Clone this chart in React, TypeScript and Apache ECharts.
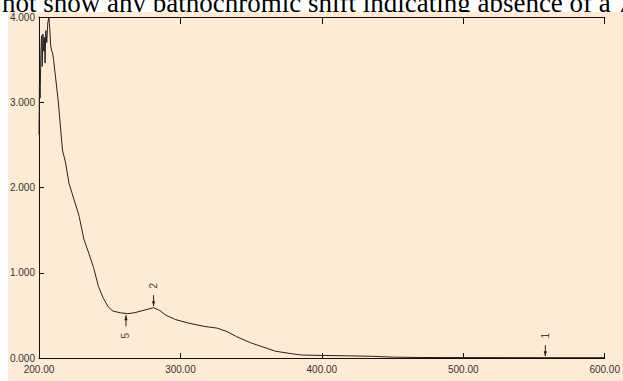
import React, { useEffect, useRef } from "react";
import * as echarts from "echarts";

// UV absorption spectrum: wavelength (nm) against absorbance
const wavelengths = [
  200.0, 200.3, 200.8, 201.3, 201.8, 202.3, 202.8, 203.3, 203.8, 204.3, 204.8,
  205.5, 206.2, 207.0, 207.6, 208.3, 209.0, 209.6, 210.3, 213.5, 216.6, 218.9,
  221.2, 224.9, 227.0, 228.4, 231.8, 235.2, 238.6, 242.0, 245.5, 248.9, 252.3,
  257.8, 262.5, 267.3, 274.2, 281.0, 285.1, 289.9, 296.7, 305.6, 317.2, 326.1,
  332.9, 339.8, 349.4, 358.2, 367.1, 378.7, 385.6, 400.0, 419.8, 435.0, 450.6,
  470.0, 500.0, 550.0, 600.0,
];
const absorbance = [
  2.62, 3.22, 3.05, 3.55, 3.78, 3.42, 3.8, 3.6, 3.76, 3.46, 3.84,
  3.7, 3.93, 4.0, 3.86, 3.66, 3.6, 3.58, 3.5, 3.03, 2.44, 2.28,
  2.05, 1.85, 1.74, 1.66, 1.39, 1.23, 1.06, 0.84, 0.7, 0.6, 0.55,
  0.53, 0.52, 0.53, 0.56, 0.59, 0.56, 0.5, 0.45, 0.41, 0.37, 0.35,
  0.31, 0.25, 0.18, 0.13, 0.08, 0.05, 0.035, 0.03, 0.025, 0.02, 0.01,
  0.006, 0.005, 0.004, 0.004,
];

// Picked peaks / valleys
const pickLabels = ["1", "2", "5"];
const pickWavelengths = [558.0, 281.0, 261.5];
const pickAbsorbance = [0.004, 0.59, 0.52];
const pickKinds = ["peak", "peak", "valley"];

const xTicks = { min: 200, max: 600, interval: 100 };
const yTicks = { min: 0, max: 4, interval: 1 };

// Line of running text above the figure (only its upper part shows)
const caption = "not show any bathochromic shift indicating absence of a 7-OH";

export default function App() {
  const ref = useRef<HTMLDivElement>(null);

  useEffect(() => {
    if (!ref.current) return;
    const chart = echarts.init(ref.current, null, { renderer: "svg" });
    const axisColor = "#111";
    const labelFont = { fontFamily: "Liberation Sans", fontSize: 10, color: "#333" };

    chart.setOption({
      animation: false,
      backgroundColor: "#ffffff",
      grid: { left: 39, right: 1, top: 17, bottom: 23 },
      xAxis: [
        {
          type: "value",
          position: "bottom",
          min: xTicks.min,
          max: xTicks.max,
          interval: xTicks.interval,
          axisLine: { show: true, lineStyle: { color: axisColor, width: 1 } },
          axisTick: { show: true, inside: true, length: 5, lineStyle: { color: axisColor } },
          axisLabel: {
            ...labelFont,
            margin: 6,
            formatter: (v: number) => v.toFixed(2),
          },
          splitLine: { show: false },
        },
        {
          type: "value",
          position: "top",
          min: xTicks.min,
          max: xTicks.max,
          interval: xTicks.interval,
          axisLine: { show: true, lineStyle: { color: axisColor, width: 1 } },
          axisTick: { show: true, inside: true, length: 7, lineStyle: { color: axisColor } },
          axisLabel: { show: false },
          splitLine: { show: false },
        },
      ],
      yAxis: {
        type: "value",
        min: yTicks.min,
        max: yTicks.max,
        interval: yTicks.interval,
        axisLine: { show: true, lineStyle: { color: axisColor, width: 1 } },
        axisTick: { show: true, inside: true, length: 5, lineStyle: { color: axisColor } },
        axisLabel: { ...labelFont, margin: 4, formatter: (v: number) => v.toFixed(3) },
        splitLine: { show: false },
      },
      series: [
        {
          type: "line",
          xAxisIndex: 0,
          data: wavelengths.map((w, i) => [w, absorbance[i]]),
          showSymbol: false,
          symbol: "none",
          lineStyle: { color: "#222", width: 1 },
          z: 3,
        },
      ],
    });

    // Peak-pick arrows and rotated labels, positioned through the axes
    const marks: any[] = [];
    pickLabels.forEach((lab, i) => {
      const [px, py] = chart.convertToPixel({ xAxisIndex: 0, yAxisIndex: 0 }, [
        pickWavelengths[i],
        pickAbsorbance[i],
      ]) as number[];
      const dir = pickKinds[i] === "peak" ? -1 : 1;
      const tip = py + dir * 1.5;
      const tail = py + dir * 12.5;
      marks.push({
        type: "line",
        shape: { x1: px, y1: tip, x2: px, y2: tail },
        style: { stroke: "#222", lineWidth: 1 },
        z: 4,
        silent: true,
      });
      marks.push({
        type: "polygon",
        shape: {
          points: [
            [px - 1.6, tip + dir * 5],
            [px + 1.6, tip + dir * 5],
            [px, tip],
          ],
        },
        style: { fill: "#222" },
        z: 4,
        silent: true,
      });
      marks.push({
        type: "text",
        x: px,
        y: py + dir * 22,
        rotation: Math.PI / 2,
        style: {
          text: lab,
          font: '10px "Liberation Sans"',
          fill: "#444",
          align: "center",
          verticalAlign: "middle",
        },
        z: 4,
        silent: true,
      });
    });

    chart.setOption({
      graphic: [
        {
          type: "rect",
          shape: { x: 8, y: 12, width: 615, height: 369 },
          style: { fill: "#fdebd6" },
          z: -10,
          silent: true,
        },
        ...marks,
      ],
    });

    return () => chart.dispose();
  }, []);

  return (
    <div style={{ position: "absolute", left: 0, top: 0, width: 623, height: 381 }}>
      <div
        ref={ref}
        style={{ position: "absolute", left: 0, top: 0, width: 623, height: 381 }}
      />
      <div
        style={{
          position: "absolute",
          left: 0,
          top: 0,
          width: 623,
          height: 12,
          overflow: "hidden",
          background: "#ffffff",
          zIndex: 2,
        }}
      >
        <div
          style={{
            position: "absolute",
            left: 2,
            top: -10,
            whiteSpace: "nowrap",
            font: '27px/27px "Liberation Serif", serif',
            color: "#000",
          }}
        >
          {caption}
        </div>
      </div>
    </div>
  );
}
